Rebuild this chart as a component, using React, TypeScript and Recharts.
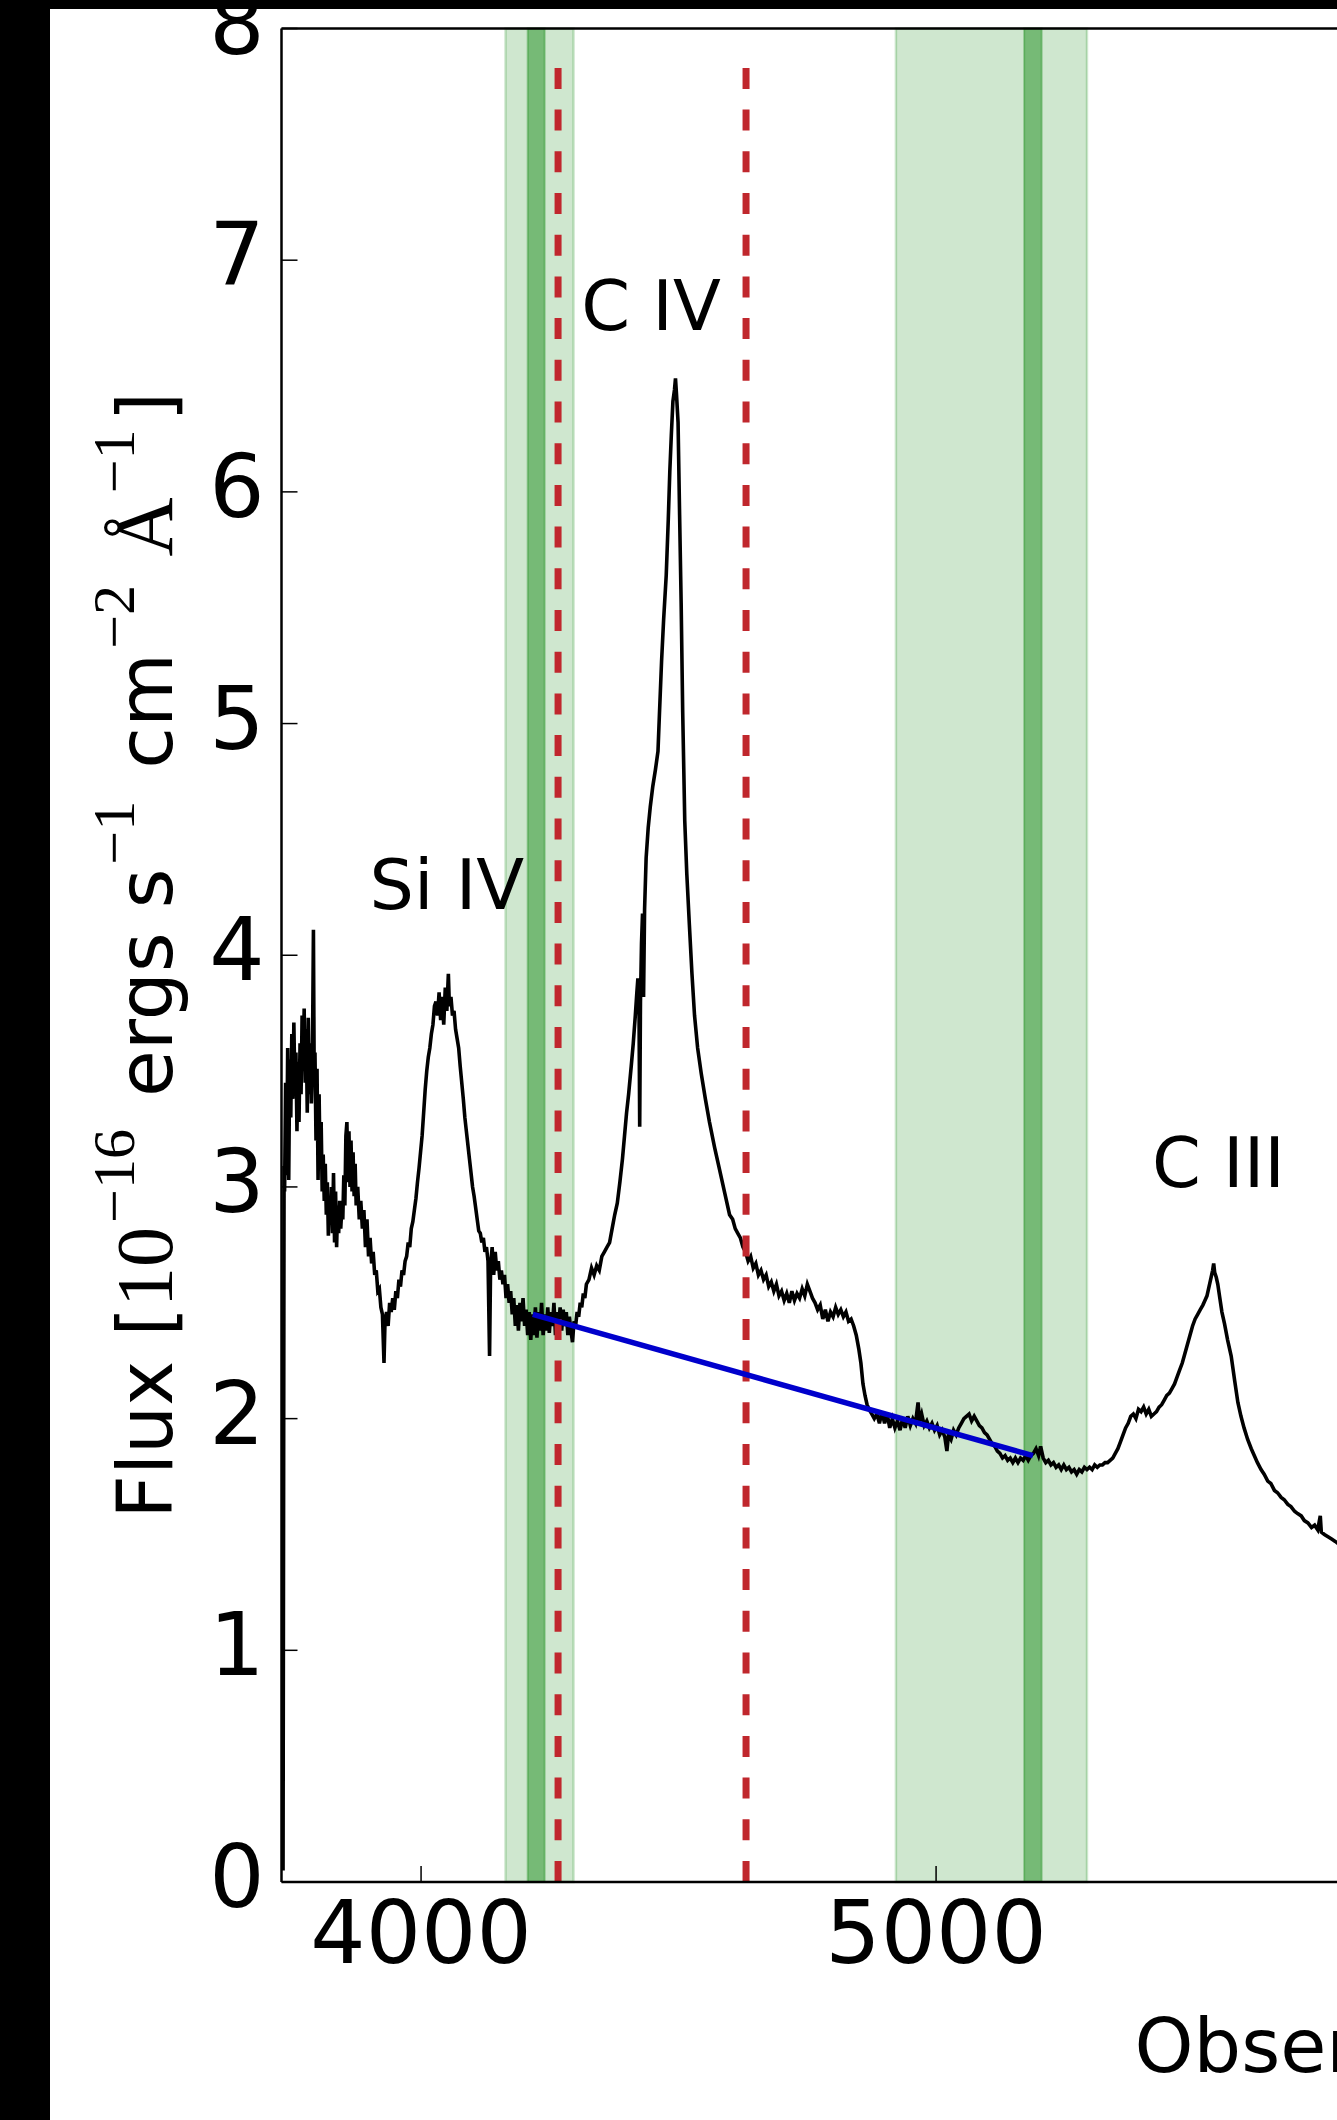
import { ComposedChart, Line, Scatter, XAxis, YAxis, ReferenceArea } from "recharts"

const FONT = "DejaVu Sans"
const MATH = "Liberation Serif"

const spectrum: [number, number][] = [
  [3732, 0.05], [3734, 3.09], [3735, 2.98], [3737, 3.45], [3739, 3.05], [3741, 3.6], [3743, 3.03], [3745, 3.55],
  [3747, 3.3], [3749, 3.66], [3751, 3.38], [3753, 3.71], [3755, 3.42], [3757, 3.58], [3759, 3.24], [3761, 3.54],
  [3763, 3.28], [3765, 3.62], [3767, 3.4], [3769, 3.74], [3771, 3.5], [3773, 3.77], [3775, 3.45], [3777, 3.68],
  [3779, 3.32], [3781, 3.73], [3783, 3.4], [3785, 3.62], [3787, 3.36], [3789, 3.55], [3791, 4.11], [3792.5, 3.46],
  [3794, 3.58], [3796, 3.2], [3798, 3.51], [3800, 3.03], [3802, 3.4], [3804, 3.08], [3806, 3.28], [3808, 2.98],
  [3810, 3.14], [3812, 2.94], [3814, 3.1], [3816, 2.88], [3818, 3.02], [3820, 2.79], [3822, 2.96], [3824, 2.84],
  [3826, 3.0], [3828, 2.8], [3830, 3.06], [3832, 2.76], [3834, 2.98], [3836, 2.74], [3838, 2.92], [3840, 2.8],
  [3842, 2.94], [3844, 2.82], [3846, 2.9], [3848, 2.86], [3850, 3.05], [3852, 2.92], [3854, 3.22], [3856, 3.28],
  [3858, 3.02], [3860, 3.24], [3862, 3.0], [3864, 3.2], [3866, 2.98], [3868, 3.15], [3870, 2.96], [3872, 3.1],
  [3874, 2.92], [3877, 3.0], [3880, 2.86], [3883, 2.94], [3886, 2.82], [3889, 2.9], [3892, 2.74], [3895, 2.86],
  [3898, 2.7], [3901, 2.78], [3904, 2.67], [3907, 2.72], [3910, 2.62], [3913, 2.64], [3916, 2.55], [3919, 2.56],
  [3922, 2.48], [3925, 2.45], [3928, 2.24], [3930, 2.42], [3933, 2.46], [3936, 2.4], [3939, 2.5], [3942, 2.46],
  [3945, 2.52], [3948, 2.47], [3951, 2.55], [3954, 2.52], [3957, 2.6], [3960, 2.57], [3963, 2.64], [3966, 2.62],
  [3969, 2.68], [3972, 2.7], [3975, 2.76], [3978, 2.74], [3981, 2.82], [3984, 2.85], [3987, 2.9], [3990, 2.95],
  [3993, 3.02], [3996, 3.08], [3999, 3.15], [4002, 3.22], [4005, 3.32], [4008, 3.42], [4011, 3.5], [4014, 3.56],
  [4017, 3.6], [4020, 3.66], [4023, 3.7], [4026, 3.78], [4029, 3.8], [4032, 3.74], [4035, 3.84], [4038, 3.72],
  [4041, 3.82], [4044, 3.7], [4047, 3.86], [4050, 3.76], [4053, 3.92], [4055, 3.78], [4058, 3.82], [4061, 3.74],
  [4064, 3.76], [4067, 3.68], [4070, 3.64], [4073, 3.6], [4076, 3.52], [4079, 3.45], [4082, 3.38], [4085, 3.3],
  [4088, 3.24], [4091, 3.18], [4094, 3.12], [4097, 3.06], [4100, 3.0], [4103, 2.96], [4106, 2.91], [4109, 2.86],
  [4112, 2.81], [4115, 2.8], [4118, 2.76], [4121, 2.78], [4124, 2.72], [4127, 2.74], [4130, 2.68], [4133, 2.27],
  [4135, 2.66], [4138, 2.74], [4141, 2.62], [4144, 2.72], [4147, 2.64], [4150, 2.68], [4153, 2.6], [4156, 2.64],
  [4159, 2.58], [4162, 2.62], [4165, 2.52], [4168, 2.58], [4171, 2.5], [4174, 2.55], [4177, 2.45], [4180, 2.52],
  [4183, 2.4], [4186, 2.49], [4189, 2.38], [4192, 2.5], [4195, 2.42], [4198, 2.52], [4201, 2.4], [4204, 2.47],
  [4207, 2.36], [4210, 2.46], [4213, 2.34], [4216, 2.45], [4219, 2.36], [4222, 2.48], [4225, 2.35], [4228, 2.46],
  [4231, 2.38], [4234, 2.5], [4237, 2.36], [4240, 2.45], [4243, 2.38], [4246, 2.48], [4249, 2.37], [4252, 2.46],
  [4255, 2.4], [4258, 2.5], [4261, 2.36], [4264, 2.46], [4267, 2.4], [4270, 2.48], [4273, 2.38], [4276, 2.47],
  [4279, 2.4], [4282, 2.46], [4285, 2.36], [4288, 2.44], [4291, 2.38], [4294, 2.33], [4297, 2.42], [4300, 2.4],
  [4303, 2.46], [4306, 2.44], [4309, 2.5], [4312, 2.48], [4315, 2.54], [4318, 2.52], [4321, 2.58], [4326, 2.6],
  [4331, 2.65], [4336, 2.62], [4341, 2.66], [4346, 2.64], [4351, 2.7], [4356, 2.72], [4361, 2.74], [4366, 2.76],
  [4371, 2.82], [4376, 2.88], [4381, 2.93], [4386, 3.02], [4391, 3.12], [4395, 3.22], [4399, 3.32], [4403, 3.4],
  [4408, 3.52], [4412, 3.62], [4416, 3.74], [4419, 3.84], [4421, 3.9], [4423, 3.85], [4424.5, 3.26], [4426, 3.8],
  [4428, 4.05], [4430, 4.18], [4432, 3.82], [4434, 4.2], [4437, 4.42], [4441, 4.55], [4445, 4.64], [4450, 4.73],
  [4455, 4.8], [4460, 4.88], [4463, 5.05], [4467, 5.27], [4471, 5.45], [4476, 5.64], [4480, 5.88], [4483, 6.09],
  [4486, 6.25], [4489, 6.39], [4492, 6.44], [4494, 6.49], [4496, 6.42], [4499, 6.3], [4502, 5.9], [4505, 5.52],
  [4508, 5.05], [4512, 4.58], [4516, 4.35], [4521, 4.13], [4526, 3.92], [4531, 3.74], [4537, 3.6], [4544, 3.49],
  [4552, 3.38], [4560, 3.28], [4570, 3.17], [4580, 3.07], [4590, 2.97], [4599, 2.88], [4605, 2.86], [4610, 2.82],
  [4615, 2.8], [4620, 2.78], [4625, 2.74], [4630, 2.72], [4635, 2.68], [4640, 2.7], [4645, 2.65], [4650, 2.67],
  [4655, 2.62], [4660, 2.64], [4665, 2.6], [4670, 2.62], [4675, 2.57], [4680, 2.59], [4685, 2.55], [4690, 2.58],
  [4695, 2.53], [4700, 2.55], [4705, 2.51], [4710, 2.54], [4715, 2.5], [4720, 2.55], [4725, 2.51], [4730, 2.54],
  [4735, 2.52], [4740, 2.56], [4745, 2.53], [4750, 2.58], [4755, 2.55], [4760, 2.52], [4765, 2.5], [4770, 2.47],
  [4775, 2.49], [4780, 2.43], [4785, 2.47], [4790, 2.42], [4795, 2.46], [4800, 2.44], [4805, 2.48], [4810, 2.45],
  [4815, 2.47], [4820, 2.44], [4825, 2.46], [4830, 2.42], [4835, 2.43], [4840, 2.4], [4845, 2.36], [4850, 2.3],
  [4854, 2.24], [4858, 2.15], [4862, 2.1], [4866, 2.06], [4870, 2.04], [4875, 2.02], [4880, 2.0], [4885, 2.02],
  [4890, 1.98], [4895, 2.03], [4900, 1.98], [4905, 2.02], [4910, 1.96], [4915, 2.0], [4920, 1.96], [4925, 1.99],
  [4930, 1.95], [4935, 2.0], [4940, 1.96], [4945, 2.01], [4950, 1.97], [4955, 2.0], [4960, 1.98], [4965, 2.07],
  [4968, 1.99], [4972, 2.02], [4977, 1.97], [4982, 1.99], [4987, 1.96], [4992, 1.98], [4997, 1.95], [5002, 1.97],
  [5007, 1.93], [5012, 1.95], [5017, 1.92], [5021, 1.86], [5024, 1.93], [5029, 1.91], [5034, 1.95], [5039, 1.93],
  [5044, 1.96], [5049, 1.98], [5054, 2.0], [5059, 2.01], [5064, 2.02], [5069, 1.99], [5074, 2.01], [5079, 1.99],
  [5084, 1.97], [5089, 1.96], [5094, 1.94], [5099, 1.93], [5104, 1.91], [5109, 1.89], [5114, 1.88], [5119, 1.86],
  [5124, 1.85], [5129, 1.83], [5134, 1.84], [5139, 1.82], [5144, 1.83], [5149, 1.81], [5154, 1.83], [5159, 1.81],
  [5164, 1.83], [5169, 1.82], [5174, 1.84], [5179, 1.82], [5184, 1.84], [5189, 1.85], [5194, 1.87], [5199, 1.84],
  [5203, 1.88], [5208, 1.83], [5213, 1.81], [5218, 1.82], [5223, 1.8], [5228, 1.81], [5233, 1.79], [5238, 1.8],
  [5243, 1.78], [5248, 1.8], [5253, 1.78], [5258, 1.79], [5263, 1.77], [5268, 1.78], [5273, 1.76], [5278, 1.78],
  [5283, 1.77], [5288, 1.79], [5293, 1.78], [5298, 1.79], [5303, 1.78], [5308, 1.8], [5313, 1.79], [5318, 1.8],
  [5323, 1.8], [5328, 1.81], [5333, 1.81], [5338, 1.82], [5343, 1.83], [5348, 1.85], [5353, 1.87], [5358, 1.9],
  [5363, 1.93], [5368, 1.96], [5373, 1.98], [5378, 2.01], [5383, 2.02], [5388, 2.0], [5393, 2.04], [5398, 2.03],
  [5403, 2.05], [5408, 2.02], [5413, 2.04], [5418, 2.01], [5423, 2.02], [5428, 2.03], [5433, 2.05], [5438, 2.06],
  [5443, 2.08], [5448, 2.1], [5453, 2.11], [5458, 2.13], [5463, 2.15], [5468, 2.18], [5473, 2.21], [5478, 2.24],
  [5483, 2.28], [5488, 2.32], [5493, 2.36], [5498, 2.4], [5503, 2.43], [5508, 2.45], [5513, 2.47], [5518, 2.49],
  [5522, 2.51], [5526, 2.53], [5530, 2.57], [5534, 2.61], [5537, 2.64], [5539, 2.67], [5541, 2.63], [5544, 2.61],
  [5547, 2.58], [5551, 2.52], [5555, 2.46], [5560, 2.41], [5566, 2.34], [5573, 2.27], [5580, 2.16], [5586, 2.07],
  [5592, 2.01], [5598, 1.96], [5605, 1.91], [5612, 1.87], [5618, 1.84], [5624, 1.81], [5631, 1.78], [5637, 1.76],
  [5644, 1.73], [5650, 1.72], [5657, 1.69], [5663, 1.68], [5670, 1.66], [5676, 1.65], [5683, 1.63], [5689, 1.62],
  [5696, 1.6], [5702, 1.59], [5709, 1.58], [5715, 1.56], [5722, 1.55], [5729, 1.53], [5735, 1.54], [5741, 1.52],
  [5746, 1.58], [5748, 1.51], [5754, 1.5], [5761, 1.49], [5768, 1.48], [5775, 1.47], [5781, 1.46], [5790, 1.47],
  [5800, 1.45], [5810, 1.46], [5825, 1.44], [5840, 1.45], [5860, 1.43], [5880, 1.44], [5900, 1.42],
]

// power-law continuum drawn between the two fit windows
const continuum: [number, number][] = [[4217, 2.45], [5188, 1.84]]

const fitWindows: [number, number][] = [[4164, 4296], [4922, 5293]]
const windowCores: [number, number][] = [[4207, 4240], [5171, 5205]]
const civBounds = [4266, 4631]
const boundTop = 7.9

const lineLabels = [
  { w: 3900, f: 4.2, text: "Si IV" },
  { w: 4311, f: 6.7, text: "C IV" },
  { w: 5419, f: 3.0, text: "C III" },
]

const xTicks = [4000, 5000, 6000]
const yTicks = [0, 1, 2, 3, 4, 5, 6, 7, 8]
const restTicks = [1400, 1700, 2000]
const redshift = 1.904

const X_DOMAIN: [number, number] = [3729, 6060]
const Y_DOMAIN: [number, number] = [0, 8]

const toRows = (pts: [number, number][]) => pts.map(([w, f]) => ({ w, f }))

function FluxLabel(props: any) {
  const vb = props.viewBox
  const x = vb.x + 172
  const y = vb.y + vb.height / 2
  const sup = { fontFamily: MATH, fontSize: 60 }
  return (
    <text x={x} y={y} transform={`rotate(-90 ${x} ${y})`} textAnchor="middle"
      fontFamily={FONT} fontSize={76} fill="#000" style={{ whiteSpace: "pre" }}>
      <tspan>Flux [</tspan>
      <tspan fontFamily={MATH} fontSize={80}>10</tspan>
      <tspan {...sup} dx={4} dy={-38}>−16</tspan>
      <tspan dx={8} dy={38}> ergs s</tspan>
      <tspan {...sup} dx={4} dy={-38}>−1</tspan>
      <tspan dx={8} dy={38}> cm</tspan>
      <tspan {...sup} dx={4} dy={-38}>−2</tspan>
      <tspan dx={8} dy={38} fontFamily={MATH} fontSize={82}> Å</tspan>
      <tspan {...sup} dx={4} dy={-38}>−1</tspan>
      <tspan dx={8} dy={38}>]</tspan>
    </text>
  )
}

function WavelengthLabel(props: any) {
  const vb = props.viewBox
  return (
    <text x={vb.x + 853} y={vb.y + 190} fontFamily={FONT} fontSize={75} fill="#000">
      Observed Wavelength [Å]
    </text>
  )
}

export default function App() {
  const spec = toRows(spectrum)
  const cont = toRows(continuum)
  const labels = lineLabels

  return (
    <div style={{ position: "fixed", left: 0, top: 0, width: 1337, height: 2120, overflow: "hidden", background: "#fff" }}>
      <ComposedChart width={1482} height={2120} margin={{ top: 26.5, right: 0, bottom: 0, left: 0 }}>
        <XAxis
          xAxisId="obs"
          dataKey="w"
          type="number"
          domain={X_DOMAIN}
          allowDataOverflow
          ticks={xTicks}
          interval={0}
          height={238}
          axisLine={{ stroke: "#000", strokeWidth: 2.5 }}
          tickLine={{ stroke: "#000", strokeWidth: 1.5 }}
          tickSize={-16}
          tickMargin={97}
          tick={(p: any) => (
            <text x={p.x} y={p.y} textAnchor="middle" fontFamily={FONT} fontSize={87} fill="#000">
              {p.payload.value}
            </text>
          )}
          label={(p: any) => <WavelengthLabel {...p} />}
        />
        {/* rest-frame axis along the top edge, its labels sit outside the visible area */}
        <XAxis
          xAxisId="rest"
          orientation="top"
          type="number"
          domain={X_DOMAIN.map((v) => v / (1 + redshift))}
          allowDataOverflow
          ticks={restTicks}
          interval={0}
          height={2}
          axisLine={{ stroke: "#000", strokeWidth: 2.5 }}
          tickLine={{ stroke: "#000", strokeWidth: 1.5 }}
          tickSize={-16}
          tick={() => <g />}
        />
        <YAxis
          yAxisId="flux"
          type="number"
          domain={Y_DOMAIN}
          allowDataOverflow
          ticks={yTicks}
          interval={0}
          width={281.5}
          axisLine={{ stroke: "#000", strokeWidth: 2.5 }}
          tickLine={{ stroke: "#000", strokeWidth: 1.5 }}
          tickSize={-16}
          tickMargin={33}
          tick={(p: any) => (
            <text x={p.x} y={p.y + 25} textAnchor="end" fontFamily={FONT} fontSize={87} fill="#000">
              {p.payload.value}
            </text>
          )}
          label={(p: any) => <FluxLabel {...p} />}
        />

        {fitWindows.map(([a, b], i) => (
          <ReferenceArea key={"win" + i} xAxisId="obs" yAxisId="flux" x1={a} x2={b}
            fill="#008000" fillOpacity={0.19} stroke="#008000" strokeOpacity={0.2} strokeWidth={2.5} />
        ))}
        {windowCores.map(([a, b], i) => (
          <ReferenceArea key={"core" + i} xAxisId="obs" yAxisId="flux" x1={a} x2={b}
            fill="#008000" fillOpacity={0.43} stroke="#008000" strokeOpacity={0.3} strokeWidth={2} />
        ))}

        <Line xAxisId="obs" yAxisId="flux" data={spec} dataKey="f" type="linear"
          stroke="#000" strokeWidth={3.6} dot={false} isAnimationActive={false} />

        {civBounds.map((w, i) => (
          <Line key={"civ" + i} xAxisId="obs" yAxisId="flux" data={[{ w, f: 0 }, { w, f: boundTop }]}
            dataKey="f" type="linear" stroke="#c0272d" strokeWidth={7} strokeDasharray="21 20.7"
            dot={false} isAnimationActive={false} />
        ))}

        <Line xAxisId="obs" yAxisId="flux" data={cont} dataKey="f" type="linear"
          stroke="#0000cc" strokeWidth={5.5} dot={false} isAnimationActive={false} />

        <Scatter xAxisId="obs" yAxisId="flux" data={labels} dataKey="f" isAnimationActive={false}
          shape={(p: any) => (
            <text x={p.cx} y={p.cy} fontFamily={FONT} fontSize={70} fill="#000">{p.payload.text}</text>
          )}
        />
      </ComposedChart>
      <div style={{ position: "absolute", left: 0, top: 0, width: 50, height: 2120, background: "#000" }} />
      <div style={{ position: "absolute", left: 0, top: 0, width: 1337, height: 9, background: "#000" }} />
    </div>
  )
}
